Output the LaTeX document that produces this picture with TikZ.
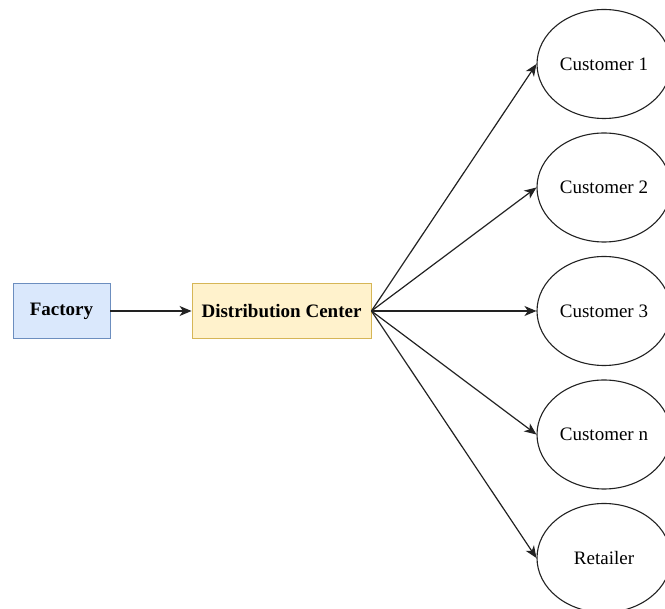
\documentclass[tikz,border=0pt]{standalone}
\usepackage{fontspec}
\setmainfont{Liberation Serif}
\usetikzlibrary{arrows.meta,shapes.geometric}

\definecolor{factfill}{HTML}{DAE8FC}
\definecolor{factdraw}{HTML}{6C8EBF}
\definecolor{dcfill}{HTML}{FFF2CC}
\definecolor{dcdraw}{HTML}{D6B656}
\definecolor{linegray}{HTML}{222222}

\begin{document}
\begin{tikzpicture}[x=1pt,y=1pt,->,>={Stealth[length=12pt,width=10pt,inset=3.5pt]},
  line width=1.2pt,draw=linegray,node distance=124pt,
  box node/.style={rectangle,draw,line width=0.9pt,minimum height=55pt,
  font=\fontsize{19}{22}\selectfont\bfseries,inner sep=0pt},
  cust node/.style={ellipse,draw=linegray,line width=1.1pt,minimum width=134pt,
  minimum height=109pt,inner sep=0pt,font=\fontsize{19}{22}\selectfont}]

  \useasboundingbox (0,0) rectangle (665,-609);

  \node[box node,fill=factfill,draw=factdraw,minimum width=97pt] (f) at (61.5,-311) {Factory};
  \node[box node,fill=dcfill,draw=dcdraw,minimum width=179pt] (dc) [right of=f, node distance=220pt] {Distribution Center};

  \node[cust node] (c3) [right of=dc, node distance=322.5pt] {Customer 3};
  \node[cust node] (c2) [above of=c3, node distance=123.5pt] {Customer 2};
  \node[cust node] (c1) [above of=c2, node distance=123.5pt] {Customer 1};
  \node[cust node] (cn) [below of=c3, node distance=123.5pt] {Customer n};
  \node[cust node] (r)  [below of=cn, node distance=123.5pt] {Retailer};

  \path
    (f) edge (dc)
    (dc.east) edge (c1.west)
    (dc.east) edge (c2.west)
    (dc.east) edge (c3.west)
    (dc.east) edge (cn.west)
    (dc.east) edge (r.west);
\end{tikzpicture}
\end{document}
